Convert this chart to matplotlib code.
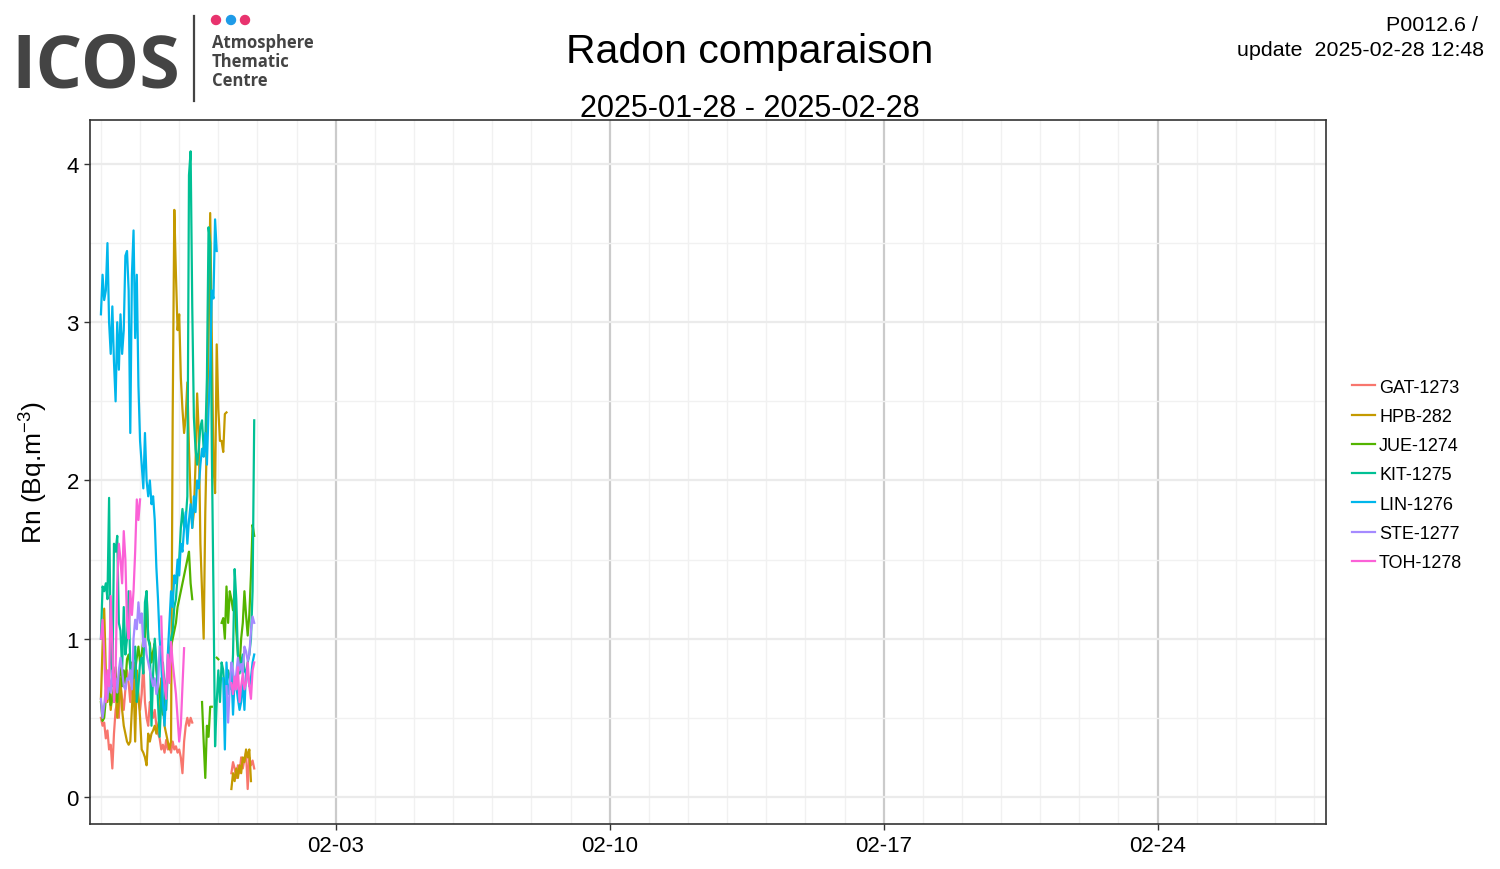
import numpy as np
import matplotlib
matplotlib.use('Agg')
import matplotlib.pyplot as plt
import matplotlib.dates as mdates
from matplotlib.lines import Line2D
from matplotlib.patches import Ellipse
from matplotlib.ticker import MultipleLocator
from datetime import datetime, timedelta

plt.rcParams['font.family'] = ['Liberation Sans', 'DejaVu Sans']
plt.rcParams['mathtext.default'] = 'regular'

nan = np.nan

# hourly values from 2025-01-28 00:00 (96 h)
stations = ['GAT-1273', 'HPB-282', 'JUE-1274', 'KIT-1275', 'LIN-1276', 'STE-1277', 'TOH-1278']
colors = ['#F8766D', '#C49A00', '#53B400', '#00C094', '#00B6EB', '#A58AFF', '#FB61D7']

gat = ([0.5, 0.45, 0.47, 0.37, 0.42, 0.3, 0.33, 0.18, 0.4, 0.55, 0.6, 0.5]
       + [0.7, 0.62, 0.55, 0.68, 0.8, 0.72, 0.6, 0.75, 0.65, 0.85, 0.7, 0.6]
       + [0.55, 0.65, 0.85, 0.6, 0.5, 0.45, 0.6, 0.55, 0.5, 0.55, 0.45, 0.4]
       + [0.37, 0.3, 0.33, 0.28, 0.36, 0.3, 0.33, 0.28, 0.35, 0.3, 0.32, 0.28]
       + [0.3, 0.25, 0.15, 0.35, 0.45, 0.5, 0.45, 0.5, 0.47, nan, nan, nan]
       + [nan] * 12
       + [nan] * 8 + [0.15, 0.22, 0.18, 0.12]
       + [0.2, 0.15, 0.25, 0.18, 0.24, 0.28, 0.05, 0.25, 0.2, 0.23, 0.18, nan])

hpb = ([0.62, 0.95, 1.19, 0.8, 0.6, 0.7, 0.55, 0.65, 0.6, 0.7, 0.5, 0.6]
       + [0.75, 0.55, 0.45, 0.4, 0.35, 0.33, 0.35, 0.56, 0.75, 0.35, 0.8, 0.65]
       + [0.5, 0.3, 0.28, 0.25, 0.2, 0.4, 0.35, 0.4, 0.42, 0.45, 0.4, 0.45]
       + [0.5, 0.75, 0.6, 0.45, 0.4, 0.35, 0.3, 0.35, 2.4, 3.71, 3.3, 2.95]
       + [3.05, 2.65, 2.45, 2.3, 2.4, 2.62, 2.2, 1.9, 1.7, 1.8, 2.1, 2.55]
       + [2.3, 1.6, 1.3, 1.0, 1.8, 2.3, 2.9, 3.69, 2.9, 2.1, 1.92, 2.86]
       + [2.45, 2.25, 2.25, 2.18, 2.42, 2.43, nan, nan, 0.05, 0.15, 0.1, 0.18]
       + [0.12, 0.2, 0.15, 0.25, 0.22, 0.3, 0.25, 0.3, 0.1, nan, nan, nan])

jue = ([0.6, 0.48, 0.5, 0.62, 0.65, 0.7, 0.58, 0.62, 0.7, 0.82, 0.6, 0.75]
       + [0.85, 0.7, 0.8, 0.72, 0.87, 0.9, 0.82, 0.85, 0.75, 0.8, 0.88, 0.95]
       + [0.85, 0.9, 1.0, 0.95, 1.3, 1.0, 0.97, 0.85, 0.92, 0.97, 0.8, 0.72]
       + [0.65, 0.58, 0.52, 0.6, 0.7, 0.8, 0.85, 0.95, 1.0, 1.05, 1.1, 1.2]
       + [1.25, 1.3, 1.35, 1.4, 1.45, 1.5, 1.55, 1.35, 1.25, nan, nan, nan]
       + [nan, nan, 0.6, 0.35, 0.12, 0.45, 0.38, 0.57, 0.57, nan, nan, 0.88]
       + [0.87, nan, 1.1, 1.13, 1.0, 1.33, 1.1, 1.3, 1.25, 1.18, 1.3, 1.05]
       + [0.9, 0.82, 1.0, 1.1, 1.3, 1.15, 1.02, 1.15, 1.4, 1.72, 1.65, nan])

kit = ([1.0, 1.33, 1.3, 1.35, 1.25, 1.89, 0.9, 0.7, 1.6, 1.55, 1.65, 1.1]
       + [1.05, 0.8, 1.2, 0.9, 1.0, 1.3, 0.8, 0.72, 0.9, 0.95, 0.6, 0.7]
       + [0.85, 0.88, 0.78, 1.23, 1.3, 1.0, 0.95, 0.45, 0.78, 1.0, 0.85, 0.6]
       + [0.38, 0.62, 0.85, 0.7, 0.55, 0.8, 0.9, 1.0, 1.05, 1.2, 1.25, 1.4]
       + [1.5, 1.7, 1.82, 1.7, 1.75, 1.9, 3.93, 4.08, 3.1, 2.4, 2.2, 2.1]
       + [2.2, 2.34, 2.38, 2.2, 2.25, 2.65, 3.6, 3.5, 2.2, 1.3, 0.32, 0.6]
       + [0.8, 0.6, 0.85, 0.8, 0.65, 0.7, 0.8, 0.75, 0.68, 0.9, 1.44, 1.25]
       + [0.9, 0.78, 0.85, 0.9, 0.8, 0.78, 0.85, 0.9, 1.0, 1.3, 2.38, nan])

lin = ([3.05, 3.3, 3.14, 3.2, 3.5, 3.0, 2.8, 3.1, 2.75, 2.5, 3.0, 2.7]
       + [3.05, 2.8, 2.95, 3.42, 3.45, 3.2, 2.3, 3.3, 3.58, 2.9, 3.3, 2.6]
       + [2.25, 2.1, 1.95, 2.3, 2.0, 1.9, 2.0, 1.85, 1.9, 1.75, 1.45, 1.25]
       + [1.0, 0.85, 0.6, 0.45, 0.65, 0.9, 1.1, 1.3, 1.2, 1.4, 1.35, 1.5]
       + [1.4, 1.6, 1.55, 1.7, 1.8, 1.6, 1.75, 1.85, 1.7, 1.9, 1.8, 2.0]
       + [1.95, 2.1, 2.2, 2.15, 2.3, 2.1, 2.45, 2.7, 3.2, 3.15, 3.65, 3.45]
       + [nan, nan, nan, 0.75, 0.3, 0.85, 0.65, 0.7, 0.8, 0.52, 0.75, 0.7]
       + [0.62, 0.55, 0.6, 0.75, 0.55, 0.8, 0.78, 0.7, 0.75, 0.85, 0.9, nan])

ste = ([0.62, 0.5, 0.58, 0.68, 0.62, 0.75, 0.66, 0.8, 0.7, 0.75, 0.66, 0.8]
       + [0.88, 0.8, 0.7, 0.68, 0.75, 0.74, 0.8, 0.68, 1.0, 1.12, 1.06, 1.23]
       + [1.1, 1.16, 0.95, 1.0, 0.9, 0.85, 0.8, 0.75, 0.7, 0.75, 0.65, 0.7]
       + [0.95] + [nan] * 11
       + [nan] * 12
       + [nan] * 12
       + [nan] * 5 + [0.7, 0.47, 0.7, 0.85, 0.8, 0.68, 0.78]
       + [0.88, 0.8, 0.84, 0.78, 0.95, 0.92, 0.86, 0.9, 1.05, 1.14, 1.1, nan])

toh = ([1.0, 1.12, 0.9, 0.6, 0.8, 0.7, 1.27, 0.95, 0.6, 0.8, 1.35, 1.6]
       + [1.5, 1.35, 1.68, 1.5, 1.1, 1.0, 1.3, 1.15, 1.3, 1.55, 1.88, 1.75]
       + [1.88] + [nan] * 11
       + [nan, 1.14, 0.8, 0.7, 0.62, 0.9, 0.72, 0.98, 0.85, 0.75, 0.65, 0.5]
       + [0.35, 0.45, 0.7, 0.94] + [nan] * 8
       + [nan] * 12
       + [nan] * 8 + [0.72, 0.65, 0.76, 0.68]
       + [0.82, 0.6, 0.7, 0.78, 0.68, 0.72, 0.85, 0.7, 0.62, 0.8, 0.85, nan])

series = [gat, hpb, jue, kit, lin, ste, toh]

t0 = datetime(2025, 1, 28)
times = [t0 + timedelta(hours=h) for h in range(96)]

fig = plt.figure(figsize=(15, 8.7), dpi=100)
ax = fig.add_axes([90 / 1500, 45 / 870, 1236 / 1500, 704 / 870])

handles = []
for name, vals, c in zip(stations, series, colors):
    l, = ax.plot(times, np.array(vals, dtype=float), color=c, lw=1.6, label=name)
    handles.append(l)

ax.set_xlim(t0 - timedelta(hours=6.7), datetime(2025, 2, 28, 7, 15))
ax.set_ylim(-0.171, 4.278)

ax.xaxis.set_major_locator(mdates.DayLocator(bymonthday=[3, 10, 17, 24]))
ax.xaxis.set_minor_locator(mdates.DayLocator())
ax.xaxis.set_major_formatter(mdates.DateFormatter('%m-%d'))
ax.yaxis.set_major_locator(MultipleLocator(1))
ax.yaxis.set_minor_locator(MultipleLocator(0.5))

ax.grid(which='minor', color='#f1f1f1', lw=1.0)
ax.grid(which='major', axis='y', color='#ebebeb', lw=1.6)
ax.grid(which='major', axis='x', color='#cbcbcb', lw=1.6)
ax.set_axisbelow(True)

for s in ax.spines.values():
    s.set_color('#333333')
    s.set_linewidth(1.2)
ax.tick_params(which='major', length=4, width=1, color='#333333', labelsize=16, pad=4, labelcolor='black')
ax.tick_params(which='minor', length=0)

fig.text(34 / 1500, 1 - 473 / 870, 'Rn (Bq.m$^{-3}$)', rotation=90, ha='center', va='center', fontsize=19)

# titles
fig.text(0.5, 1 - 63 / 870, 'Radon comparaison', ha='center', va='baseline', fontsize=29.5)
fig.text(0.5, 1 - 117 / 870, '2025-01-28 - 2025-02-28', ha='center', va='baseline', fontsize=22)
fig.text(1478 / 1500, 1 - 31 / 870, 'P0012.6 /', ha='right', va='baseline', fontsize=15.4)
fig.text(1484 / 1500, 1 - 56 / 870, 'update  2025-02-28 12:48', ha='right', va='baseline', fontsize=15.4)

# logo
fig.text(11 / 1500, 1 - 87 / 870, 'ICOS', family='Open Sans', weight='bold', fontsize=53, color='#444444', va='baseline')
fig.add_artist(Line2D([194 / 1500, 194 / 1500], [1 - 17 / 870, 1 - 102 / 870], color='#444444', lw=1.6))
for px, c in zip([216, 231, 245], ['#E8336E', '#1E9BE8', '#E8336E']):
    fig.add_artist(Ellipse((px / 1500, 1 - 21 / 870), 9 / 1500, 9 / 870, color=c, transform=fig.transFigure))
fig.text(212 / 1500, 1 - 34 / 870, 'Atmosphere\nThematic\nCentre', family='Open Sans', weight='bold',
         fontsize=12, color='#444444', va='top', linespacing=1.08)

fig.legend(handles, stations, loc='center left', bbox_to_anchor=(1352 / 1500, 1 - 476 / 870), frameon=False,
           fontsize=13, handlelength=1.25, handletextpad=0.25, labelspacing=0.68, borderaxespad=0, borderpad=0)

plt.savefig('out.png', dpi=100)
